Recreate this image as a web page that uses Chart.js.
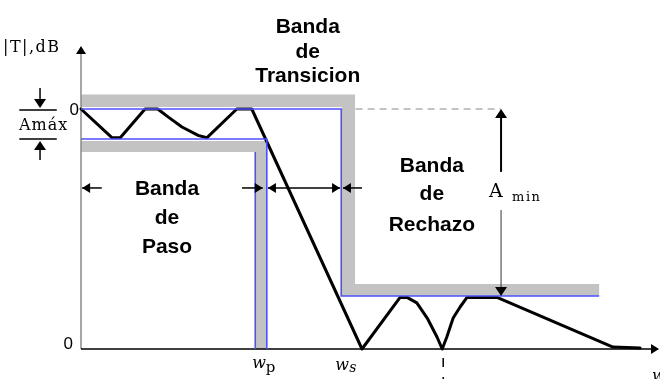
<!DOCTYPE html>
<html>
<head>
<meta charset="utf-8">
<script src="https://cdn.jsdelivr.net/npm/chart.js@4/dist/chart.umd.min.js"></script>
<style>
  html, body { margin: 0; padding: 0; background: #fff; }
  #wrap { width: 660px; height: 379px; }
</style>
</head>
<body>
<div id="wrap"><canvas id="c" width="660" height="379"></canvas></div>
<script>
// Normalised frequency axis (0..100) and attenuation axis (0 = floor, 100 = 0 dB)
const responseX = [0, 5.4, 6.8, 11.1, 13.3, 15.2, 17.5, 20.3, 21.8, 27.0, 29.6, 48.7, 55.3, 56.5, 58.2, 60.0, 61.7, 62.6, 63.4, 64.5, 65.7, 66.9, 72.1, 92.2, 96.9];
const responseY = [100, 88, 88, 100, 100, 96.5, 92.5, 89, 88, 100, 100, 0, 21.5, 21.5, 19.2, 12.9, 5, 0, 5, 12.9, 17.5, 21.5, 21.5, 0.8, 0.4];

// Filter specification
const passTop = 100;      // 0 dB
const passLow = 87.5;     // 0 dB - Amax
const stopLevel = 22.1;   // 0 dB - Amin
const wpInner = 30.2;
const wpEdge = 32.2;
const wsEdge = 45.1;
const stopEnd = 89.8;
const aMinX = 72.8;
const dashMarkX = 62.6;

// Tolerance bands (polygons in data units)
const bandUpperX = [0, 47.5, 47.5, 89.8, 89.8, 45.2, 45.2, 0];
const bandUpperY = [106, 106, 27.1, 27.1, 22.1, 22.1, 100.8, 100.8];
const bandPassX = [0, 32.1, 32.1, 30.2, 30.2, 0];
const bandPassY = [86.7, 86.7, 0, 0, 82.1, 82.1];

const pts = (xs, ys) => xs.map((x, i) => ({ x, y: ys[i] }));

const BLUE = '#5050ff';
const GREY = '#c3c3c3';

function arrowHead(ctx, x, y, dir, len, half) {
  // dir: 'l','r','u','d' — tip at (x,y)
  ctx.beginPath();
  ctx.moveTo(x, y);
  if (dir === 'l') { ctx.lineTo(x + len, y - half); ctx.lineTo(x + len, y + half); }
  if (dir === 'r') { ctx.lineTo(x - len, y - half); ctx.lineTo(x - len, y + half); }
  if (dir === 'u') { ctx.lineTo(x - half, y + len); ctx.lineTo(x + half, y + len); }
  if (dir === 'd') { ctx.lineTo(x - half, y - len); ctx.lineTo(x + half, y - len); }
  ctx.closePath();
  ctx.fill();
}

const diagram = {
  id: 'diagram',
  beforeDatasetsDraw(chart) {
    const { ctx } = chart;
    const X = v => chart.scales.x.getPixelForValue(v);
    const Y = v => chart.scales.y.getPixelForValue(v);
    ctx.save();
    ctx.fillStyle = GREY;
    [[bandUpperX, bandUpperY], [bandPassX, bandPassY]].forEach(([xs, ys]) => {
      ctx.beginPath();
      xs.forEach((x, i) => (i ? ctx.lineTo(X(x), Y(ys[i])) : ctx.moveTo(X(x), Y(ys[i]))));
      ctx.closePath();
      ctx.fill();
    });

    // y axis
    ctx.strokeStyle = '#8a8a8a';
    ctx.lineWidth = 1.5;
    ctx.beginPath();
    ctx.moveTo(X(0), Y(0));
    ctx.lineTo(X(0), Y(124));
    ctx.stroke();
    ctx.fillStyle = '#000';
    arrowHead(ctx, X(0), Y(126.3), 'u', 8, 5);

    // x axis
    ctx.strokeStyle = '#000';
    ctx.lineWidth = 1.5;
    ctx.beginPath();
    ctx.moveTo(X(0), Y(0));
    ctx.lineTo(X(100), Y(0));
    ctx.stroke();
    arrowHead(ctx, X(100) + 1, Y(0), 'r', 8, 5);
    ctx.restore();
  },
  afterDraw(chart) {
    const { ctx } = chart;
    const X = v => chart.scales.x.getPixelForValue(v);
    const Y = v => chart.scales.y.getPixelForValue(v);
    ctx.save();
    ctx.fillStyle = '#000';
    ctx.strokeStyle = '#000';

    // band arrows
    const rowY = Y(67.1);
    ctx.lineWidth = 1.5;
    const seg = (a, b) => { ctx.beginPath(); ctx.moveTo(X(a), rowY); ctx.lineTo(X(b), rowY); ctx.stroke(); };
    seg(0.2, 3.6); arrowHead(ctx, X(0.2), rowY, 'l', 8, 5);
    seg(27.9, 31.5); arrowHead(ctx, X(31.5), rowY, 'r', 8, 5);
    seg(32.4, 44.9); arrowHead(ctx, X(32.4), rowY, 'l', 8, 5); arrowHead(ctx, X(44.9), rowY, 'r', 8, 5);
    seg(45.4, 48.7); arrowHead(ctx, X(45.4), rowY, 'l', 8, 5);

    // Amin arrow
    ctx.lineWidth = 2;
    ctx.beginPath(); ctx.moveTo(X(aMinX), Y(passTop) + 6); ctx.lineTo(X(aMinX), Y(73.8)); ctx.stroke();
    arrowHead(ctx, X(aMinX), Y(passTop), 'u', 9, 6);
    ctx.lineWidth = 1;
    ctx.strokeStyle = '#333';
    ctx.beginPath(); ctx.moveTo(X(aMinX), Y(57.9)); ctx.lineTo(X(aMinX), Y(stopLevel) - 6); ctx.stroke();
    arrowHead(ctx, X(aMinX), Y(stopLevel), 'd', 9, 6);

    // Amax markers
    ctx.strokeStyle = '#000';
    ctx.lineWidth = 1.5;
    const ax = X(-7.1);
    ctx.beginPath();
    ctx.moveTo(X(-10.7), Y(passTop) + 1); ctx.lineTo(X(-4.2), Y(passTop) + 1);
    ctx.moveTo(X(-10.7), Y(passLow)); ctx.lineTo(X(-4.2), Y(passLow));
    ctx.moveTo(ax, Y(108.75)); ctx.lineTo(ax, Y(passTop) - 5);
    ctx.moveTo(ax, Y(78.75)); ctx.lineTo(ax, Y(passLow) + 5);
    ctx.stroke();
    arrowHead(ctx, ax, Y(passTop) - 1, 'd', 9, 6);
    arrowHead(ctx, ax, Y(passLow) + 2, 'u', 9, 6);

    // dashed mark under the second stopband zero
    ctx.lineWidth = 1.5;
    ctx.setLineDash([9, 10]);
    ctx.beginPath(); ctx.moveTo(X(dashMarkX) + 1, Y(0) + 9); ctx.lineTo(X(dashMarkX) + 1, 379); ctx.stroke();
    ctx.setLineDash([]);

    // bold band titles
    ctx.font = 'bold 21px "Liberation Sans", Arial, sans-serif';
    ctx.textAlign = 'center';
    ctx.textBaseline = 'alphabetic';
    const title = (cx, lines, baselines) => lines.forEach((t, i) => ctx.fillText(t, X(cx), baselines[i]));
    title(14.9, ['Banda', 'de', 'Paso'], [195, 224, 253]);
    title(39.3, ['Banda', 'de', 'Transicion'], [33, 58, 82]);
    title(60.8, ['Banda', 'de', 'Rechazo'], [172, 200, 231]);

    // level labels
    ctx.font = '17px "Liberation Sans", Arial, sans-serif';
    ctx.textAlign = 'right';
    ctx.textBaseline = 'middle';
    ctx.fillText('0', X(0) - 2, Y(passTop) + 1);
    ctx.textBaseline = 'alphabetic';
    ctx.fillText('0', X(0) - 8, Y(0));

    // serif annotations
    ctx.textAlign = 'left';
    ctx.font = '16px "DejaVu Serif", serif';
    ctx.letterSpacing = '1.5px';
    ctx.fillText('|T|,dB', 3, 52);
    ctx.font = '16px "DejaVu Serif", serif';
    ctx.letterSpacing = '1px';
    ctx.fillText('Amáx', 19, 130);
    ctx.letterSpacing = '0px';
    ctx.font = '19px "DejaVu Serif", serif';
    ctx.fillText('A', X(aMinX) - 12, 197);
    ctx.font = '13px "DejaVu Serif", serif';
    ctx.letterSpacing = '1.5px';
    ctx.fillText('min', X(aMinX) + 11, 201);
    ctx.letterSpacing = '0px';

    ctx.font = 'italic 16px "DejaVu Serif", serif';
    ctx.fillText('w', X(wpInner) - 3, 368);
    ctx.font = '15px "DejaVu Serif", serif';
    ctx.fillText('p', X(wpEdge) - 1, 372);
    ctx.font = 'italic 16px "DejaVu Serif", serif';
    ctx.fillText('w', X(wsEdge) - 6, 370);
    ctx.font = 'italic 14px "DejaVu Serif", serif';
    ctx.fillText('s', X(wsEdge) + 8, 372);
    ctx.font = 'italic 16px "DejaVu Serif", serif';
    ctx.fillText('w', 652, 381);
    ctx.restore();
  }
};

new Chart(document.getElementById('c'), {
  type: 'scatter',
  data: {
    datasets: [
      {
        data: pts([0, wsEdge, wsEdge, stopEnd], [passTop, passTop, stopLevel, stopLevel]),
        showLine: true, borderColor: BLUE, borderWidth: 1.6, pointRadius: 0, clip: false
      },
      {
        data: pts([0, wpEdge, wpEdge], [passLow, passLow, 0]),
        showLine: true, borderColor: BLUE, borderWidth: 1.6, pointRadius: 0, clip: false
      },
      {
        data: pts([wpInner, wpInner], [82.1, 0]),
        showLine: true, borderColor: BLUE, borderWidth: 1.6, pointRadius: 0, clip: false
      },
      {
        data: pts([47.6, aMinX], [passTop, passTop]),
        showLine: true, borderColor: '#888', borderWidth: 1, borderDash: [7, 5], pointRadius: 0, clip: false
      },
      {
        data: pts(responseX, responseY),
        showLine: true, borderColor: '#000', borderWidth: 3, pointRadius: 0,
        borderJoinStyle: 'round', borderCapStyle: 'round', clip: false
      }
    ]
  },
  options: {
    responsive: false,
    animation: false,
    devicePixelRatio: 1,
    layout: { padding: { left: 81, right: 2, top: 37, bottom: 30 } },
    plugins: { legend: { display: false }, tooltip: { enabled: false } },
    scales: {
      x: { type: 'linear', min: 0, max: 100, display: false },
      y: { type: 'linear', min: 0, max: 130, display: false }
    }
  },
  plugins: [diagram]
});
</script>
</body>
</html>
